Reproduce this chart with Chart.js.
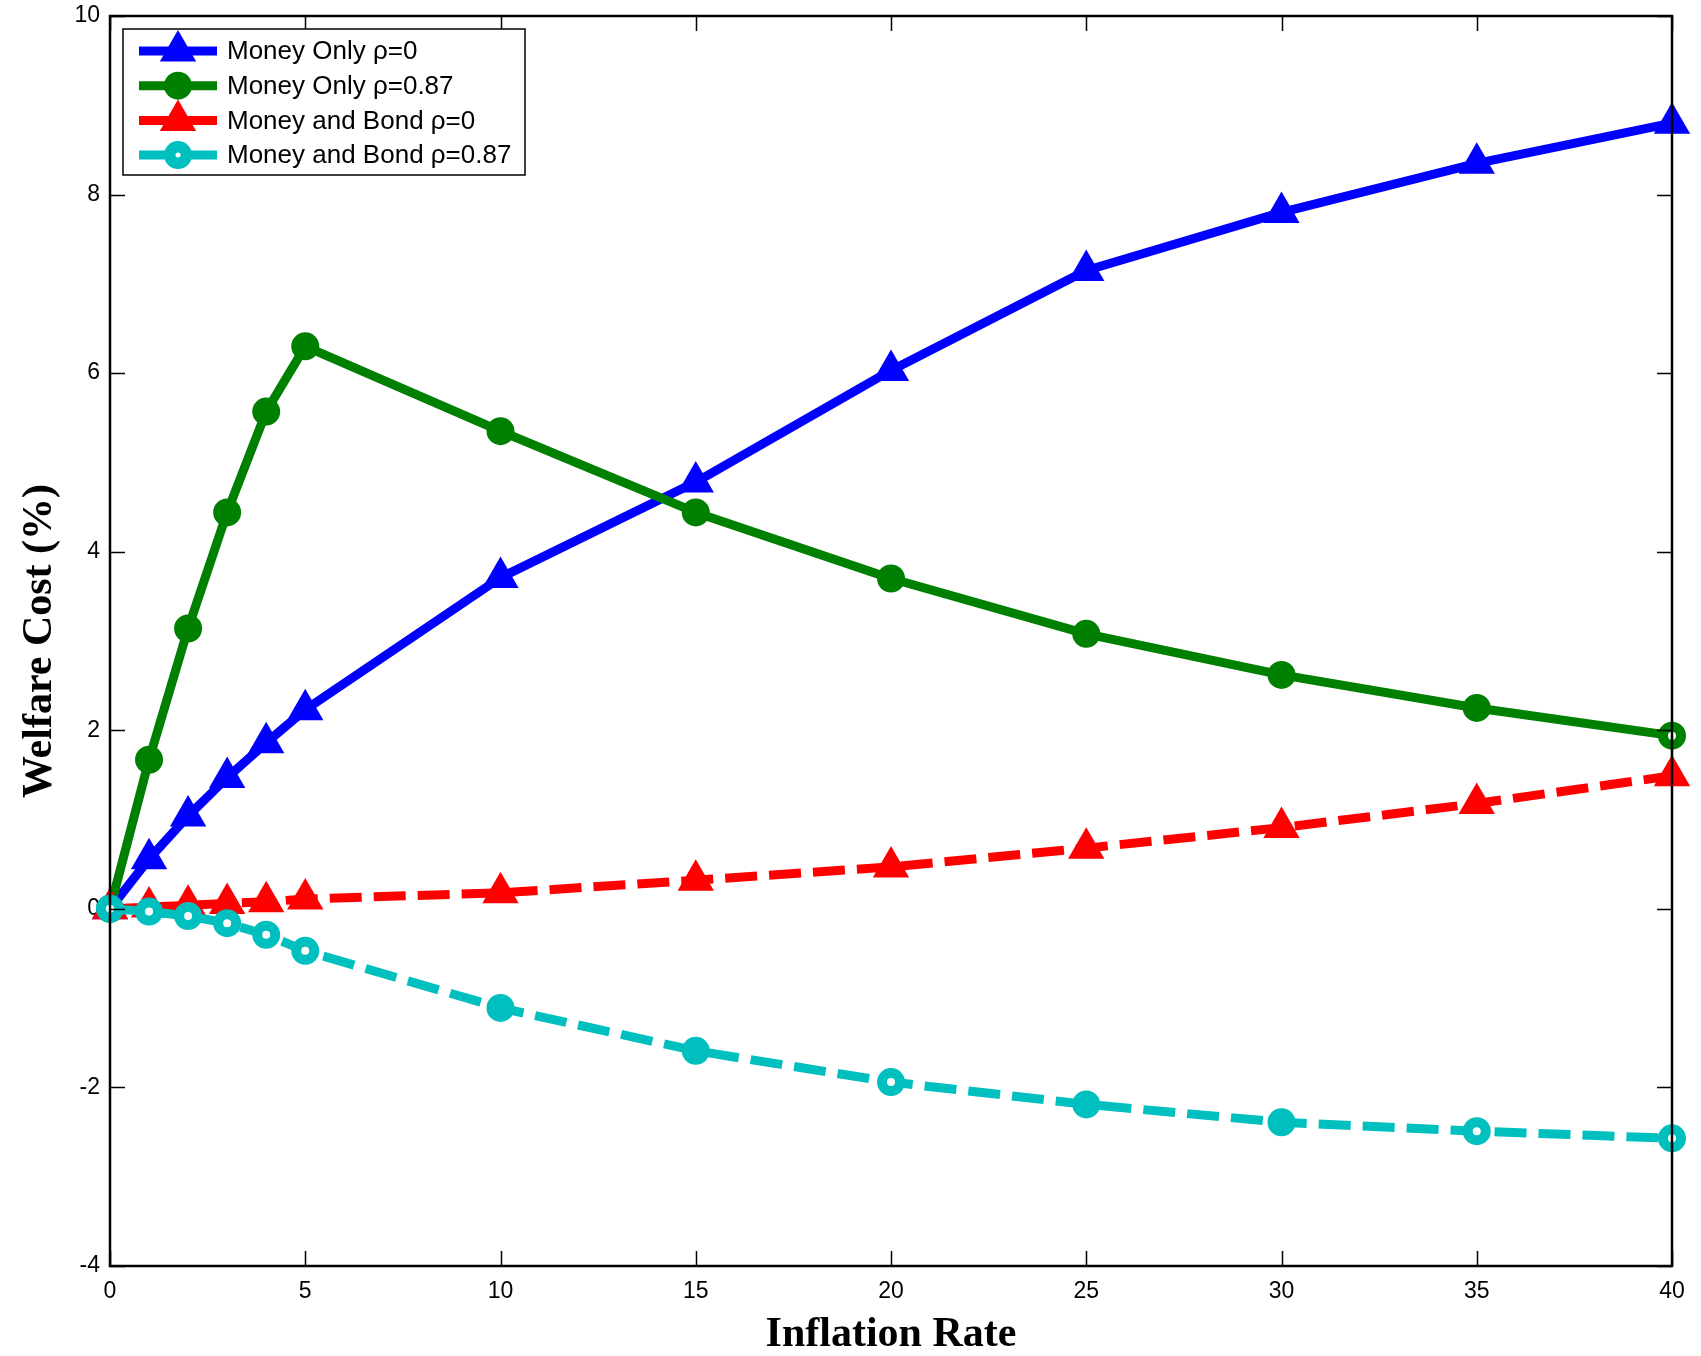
<!DOCTYPE html>
<html>
<head>
<meta charset="utf-8">
<script src="https://cdn.jsdelivr.net/npm/chart.js@4.4.1/dist/chart.umd.min.js"></script>
<style>
  body { margin: 0; background: #fff; }
  canvas { display: block; }
</style>
</head>
<body>
<canvas id="welfare" width="1701" height="1356"></canvas>
<script>
// inflation rates (%) and welfare cost (%) for each model
const inflation = [0, 1, 2, 3, 4, 5, 10, 15, 20, 25, 30, 35, 40];
const moneyOnly0 = [0, 0.56, 1.04, 1.47, 1.86, 2.23, 3.71, 4.78, 6.03, 7.15, 7.80, 8.35, 8.80];
const moneyOnly87 = [0, 1.67, 3.14, 4.44, 5.57, 6.30, 5.35, 4.44, 3.70, 3.08, 2.62, 2.25, 1.94];
const moneyBond0 = [0, 0.02, 0.04, 0.06, 0.08, 0.11, 0.18, 0.32, 0.47, 0.68, 0.91, 1.18, 1.49];
const moneyBond87 = [0, -0.03, -0.08, -0.16, -0.29, -0.47, -1.11, -1.59, -1.94, -2.19, -2.39, -2.49, -2.57];

const seriesNames = ['Money Only \u03c1=0', 'Money Only \u03c1=0.87', 'Money and Bond \u03c1=0', 'Money and Bond \u03c1=0.87'];
const xTicks = [0, 5, 10, 15, 20, 25, 30, 35, 40];
const yTicks = [-4, -2, 0, 2, 4, 6, 8, 10];

const BLUE = '#0000ff', GREEN = '#008000', RED = '#ff0000', CYAN = '#00bfbf';

function pts(ys) {
  return inflation.map((x, i) => ({x: x, y: ys[i]}));
}

// cyan markers: some show a small white hole in the middle
const cyanFill = [1,1,1,1,1,1,0,0,1,0,0,1,1].map(h => h ? '#fff' : CYAN);
const greenFill = inflation.map((x, i) => i === inflation.length - 1 ? '#fff' : GREEN);

// inward ticks on all four sides plus the box
const boxTicks = {
  id: 'boxTicks',
  afterDraw(chart) {
    const {ctx, chartArea: a, scales: {x, y}} = chart;
    const len = 15;
    ctx.save();
    ctx.strokeStyle = '#000';
    ctx.lineWidth = 1.5;
    ctx.beginPath();
    xTicks.forEach(v => {
      const px = Math.round(x.getPixelForValue(v)) + 0.5;
      ctx.moveTo(px, a.bottom); ctx.lineTo(px, a.bottom - len);
      ctx.moveTo(px, a.top); ctx.lineTo(px, a.top + len);
    });
    yTicks.forEach(v => {
      const py = Math.round(y.getPixelForValue(v)) + 0.5;
      ctx.moveTo(a.left, py); ctx.lineTo(a.left + len, py);
      ctx.moveTo(a.right, py); ctx.lineTo(a.right - len, py);
    });
    ctx.stroke();
    ctx.lineWidth = 2.5;
    ctx.strokeRect(a.left, a.top, a.right - a.left, a.bottom - a.top);
    ctx.restore();
  }
};

function marker(ctx, style, cx, cy, color, hole) {
  ctx.fillStyle = color;
  ctx.beginPath();
  if (style === 'triangle') {
    const r = 21;
    for (let k = 0; k < 3; k++) {
      const ang = k * 2 * Math.PI / 3;
      const px = cx + Math.sin(ang) * r, py = cy - Math.cos(ang) * r;
      k === 0 ? ctx.moveTo(px, py) : ctx.lineTo(px, py);
    }
    ctx.closePath();
    ctx.fill();
  } else {
    ctx.arc(cx, cy, 14, 0, Math.PI * 2);
    ctx.fill();
    if (hole) {
      ctx.fillStyle = '#fff';
      ctx.beginPath();
      ctx.arc(cx, cy, 2.5, 0, Math.PI * 2);
      ctx.fill();
    }
  }
}

// MATLAB-like legend with line samples and markers
const boxLegend = {
  id: 'boxLegend',
  afterDraw(chart) {
    const {ctx, chartArea: a} = chart;
    const bx = a.left + 13, by = a.top + 13, bw = 402, bh = 146;
    const styles = [
      ['triangle', BLUE, false], ['circle', GREEN, false],
      ['triangle', RED, false], ['circle', CYAN, true]
    ];
    ctx.save();
    ctx.fillStyle = '#fff';
    ctx.fillRect(bx, by, bw, bh);
    ctx.strokeStyle = '#000';
    ctx.lineWidth = 1.5;
    ctx.strokeRect(bx, by, bw, bh);
    seriesNames.forEach((name, i) => {
      const ry = by + 22 + i * 34.7;
      const [style, color, hole] = styles[i];
      ctx.strokeStyle = color;
      ctx.lineWidth = 9;
      ctx.beginPath();
      ctx.moveTo(bx + 16, ry); ctx.lineTo(bx + 94, ry);
      ctx.stroke();
      marker(ctx, style, bx + 55, ry, color, hole);
      ctx.fillStyle = '#000';
      ctx.font = '26px "Liberation Sans", Arial, sans-serif';
      ctx.textBaseline = 'middle';
      ctx.fillText(name, bx + 104, ry + 1);
    });
    ctx.restore();
  }
};

const tickFont = {family: '"Liberation Sans", Arial, sans-serif', size: 23};
const titleFont = {family: '"Liberation Serif", "Times New Roman", serif', size: 42, weight: 'bold', lineHeight: 1};

new Chart(document.getElementById('welfare'), {
  type: 'line',
  data: {
    datasets: [
      {
        label: seriesNames[0], data: pts(moneyOnly0), order: 4,
        borderColor: BLUE, backgroundColor: BLUE, borderWidth: 9,
        pointStyle: 'triangle', pointRadius: 21, pointBorderWidth: 0
      },
      {
        label: seriesNames[1], data: pts(moneyOnly87), order: 3,
        borderColor: GREEN, backgroundColor: GREEN, borderWidth: 9,
        pointStyle: 'circle', pointRadius: 9, pointBorderWidth: 10,
        pointBackgroundColor: greenFill, pointBorderColor: GREEN
      },
      {
        label: seriesNames[2], data: pts(moneyBond0), order: 2,
        borderColor: RED, backgroundColor: RED, borderWidth: 9, borderDash: [32, 12],
        pointStyle: 'triangle', pointRadius: 21, pointBorderWidth: 0
      },
      {
        label: seriesNames[3], data: pts(moneyBond87), order: 1,
        borderColor: CYAN, backgroundColor: CYAN, borderWidth: 9, borderDash: [32, 12],
        pointStyle: 'circle', pointRadius: 9, pointBorderWidth: 10,
        pointBackgroundColor: cyanFill, pointBorderColor: CYAN
      }
    ]
  },
  options: {
    responsive: false,
    animation: false,
    clip: false,
    layout: { autoPadding: false, padding: {top: 16, right: 29, left: 0, bottom: 0} },
    plugins: { legend: {display: false}, tooltip: {enabled: false} },
    elements: { line: {tension: 0, borderCapStyle: 'butt', borderJoinStyle: 'round'} },
    scales: {
      x: {
        type: 'linear', min: 0, max: 40,
        afterFit(s) { s.height = 90; },
        afterBuildTicks(s) { s.ticks = xTicks.map(v => ({value: v})); },
        ticks: {font: tickFont, color: '#000', padding: 12, maxRotation: 0},
        grid: {drawOnChartArea: false, drawTicks: false},
        border: {display: false},
        title: {display: true, text: 'Inflation Rate', font: titleFont, color: '#000', padding: {top: 0, bottom: 0}}
      },
      y: {
        type: 'linear', min: -4, max: 10,
        afterFit(s) { s.width = 110; s.paddingTop = 0; s.paddingBottom = 0; },
        afterBuildTicks(s) { s.ticks = yTicks.map(v => ({value: v})); },
        ticks: {font: tickFont, color: '#000', padding: 10},
        grid: {drawOnChartArea: false, drawTicks: false},
        border: {display: false},
        title: {display: true, text: 'Welfare Cost (%)', font: titleFont, color: '#000', padding: {top: 19, bottom: 0}}
      }
    }
  },
  plugins: [boxTicks, boxLegend]
});
</script>
</body>
</html>
